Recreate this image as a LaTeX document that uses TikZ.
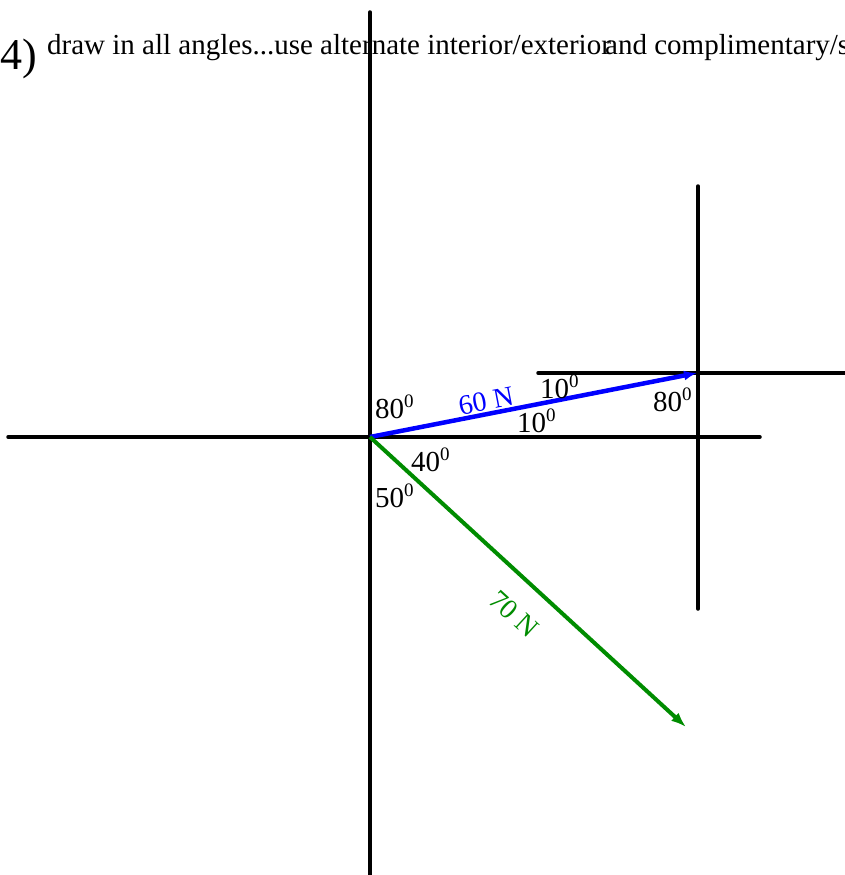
\documentclass[tikz,border=0pt]{standalone}
\usepackage{fontspec}
\setmainfont{Liberation Serif}
\usetikzlibrary{arrows.meta}
\definecolor{vgreen}{RGB}{0,140,0}
\definecolor{vblue}{RGB}{0,0,255}
\newcommand\angl[1]{#1\raisebox{11pt}{\fontsize{19}{19}\selectfont 0}}
\tikzset{
  axis/.style={line width=3.5pt, line cap=round, black},
  lbl/.style={inner sep=0pt, anchor=base west, font=\fontsize{29}{32}\selectfont},
  force/.style={line width=4pt},
}
\begin{document}
\begin{tikzpicture}[x=1pt,y=-1pt]
\useasboundingbox (0,0) rectangle (844,875);
% coordinates
\coordinate (vtop) at (370,12);
\coordinate (vbot) at (370,875);
\coordinate (hl) at (8,437);
\coordinate (hr) at (760,437);
\coordinate (rvtop) at (698,186);
\coordinate (rvbot) at (698,609);
\coordinate (rhl) at (538,373);
\coordinate (rhr) at (846,373);
\coordinate (O) at (370,437);
\coordinate (P) at (697,373);
\coordinate (G) at (686,727);
% title
\node[lbl, font=\fontsize{44}{48}\selectfont] (num) at (0,70) {4)};
\node[lbl] (t1) at (47,55) {draw in all angles...use alternate interior/exterior};
\node[lbl] (t2) at (605,55) {and complimentary/s};
% axes
\draw[axis] (vtop) -- (vbot);
\draw[axis] (hl) -- (hr);
\draw[axis] (rvtop) -- (rvbot);
\draw[axis] (rhl) -- (rhr);
% forces
\draw[force, line width=4.5pt, vblue, -{Latex[length=13pt,width=10pt]}] (O) -- (P);
\draw[force, vgreen, -{Latex[length=15pt,width=11pt]}] (O) -- (G);
\node[inner sep=0pt, text=vblue, rotate=11, font=\fontsize{28}{30}\selectfont] (f60) at (486,401) {60 N};
\node[inner sep=0pt, text=vgreen, rotate=-42.5, font=\fontsize{28}{30}\selectfont] (f70) at (514,614) {70 N};
% angle labels
\node[lbl] (a1) at (375,418) {\angl{80}};
\node[lbl] (a2) at (540,398) {\angl{10}};
\node[lbl] (a3) at (517,432) {\angl{10}};
\node[lbl] (a4) at (653,411) {\angl{80}};
\node[lbl] (a5) at (411,471) {\angl{40}};
\node[lbl] (a6) at (375,507) {\angl{50}};
\end{tikzpicture}
\end{document}
